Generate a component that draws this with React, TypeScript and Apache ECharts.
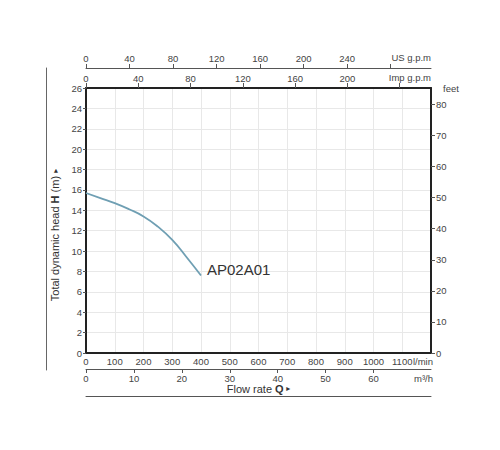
import * as echarts from "echarts";
import { useEffect, useRef } from "react";

// pump curve, flow in l/min, head in m
const flowLpm = [0, 50, 100, 150, 200, 250, 300, 350, 400];
const headM = [15.7, 15.2, 14.7, 14.1, 13.4, 12.4, 11.1, 9.4, 7.6];
const modelName = "AP02A01";

const usGpmTicks = [0, 40, 80, 120, 160, 200, 240, 280];
const usGpmLabels = [0, 40, 80, 120, 160, 200, 240];
const impGpmTicks = [0, 40, 80, 120, 160, 200, 240];
const impGpmLabels = [0, 40, 80, 120, 160, 200];
const m3hTicks = [0, 10, 20, 30, 40, 50, 60];
const feetTicks = [0, 10, 20, 30, 40, 50, 60, 70, 80];

const LPM_MAX = 1200;
const HEAD_MAX = 26;
const FONT = '"Liberation Sans", Arial, sans-serif';
const TXT = "#444";

export default function App() {
  const chartRef = useRef<HTMLDivElement>(null);
  useEffect(() => {
    const chart = echarts.init(chartRef.current, null, { renderer: "svg" });
    chart.setOption(getChartOption());
    return () => {
      chart.dispose();
    };
  }, []);

  return (
    <div
      ref={chartRef}
      style={{ position: "absolute", left: 0, top: 0, width: "500px", height: "450px" }}
    />
  );
}

function getChartOption() {
  const label = { color: TXT, fontSize: 9.5, fontFamily: FONT };
  const dark = { onZero: false, lineStyle: { color: "#222", width: 2 } };
  const thin = { onZero: false, lineStyle: { color: "#555", width: 1 } };

  return {
    animation: false,
    backgroundColor: "#fff",
    textStyle: { fontFamily: FONT },
    grid: [
      { left: 86, top: 88, width: 345, height: 265 },
      { left: 46, top: 68, width: 1, height: 302 },
    ],
    xAxis: [
      {
        // l/min
        type: "value",
        gridIndex: 0,
        position: "bottom",
        min: 0,
        max: LPM_MAX,
        interval: 100,
        axisLine: dark,
        axisTick: { show: false },
        axisLabel: {
          ...label,
          margin: 3,
          formatter: (v: number) => (v <= 1100 ? String(v) : ""),
        },
        splitLine: { show: true, lineStyle: { color: "#e8e8e8", width: 1 } },
        name: "l/min",
        nameLocation: "end",
        nameGap: 2,
        nameMoveOverlap: false,
        nameTextStyle: { ...label, align: "right", verticalAlign: "top", padding: [3, 0, 0, 0] },
      },
      {
        // m³/h
        type: "value",
        gridIndex: 0,
        position: "bottom",
        offset: 16,
        min: 0,
        max: (LPM_MAX * 60) / 1000,
        axisLine: thin,
        axisTick: { show: true, length: 4, lineStyle: { color: "#555" }, customValues: m3hTicks },
        axisLabel: { ...label, margin: 4, customValues: m3hTicks },
        splitLine: { show: false },
        name: "m³/h",
        nameLocation: "end",
        nameGap: 2,
        nameMoveOverlap: false,
        nameTextStyle: { ...label, align: "right", verticalAlign: "top", padding: [4, 0, 0, 0] },
      },
      {
        // flow rate title line
        type: "value",
        gridIndex: 0,
        position: "bottom",
        offset: 43,
        min: 0,
        max: 1,
        axisLine: thin,
        axisTick: { show: false },
        axisLabel: { show: false },
        splitLine: { show: false },
        name: "{a|Flow rate }{b|Q}{c| ▸}",
        nameLocation: "middle",
        nameGap: -2,
        nameMoveOverlap: false,
        nameTextStyle: {
          verticalAlign: "bottom",
          rich: {
            a: { fontSize: 11, color: "#333", fontFamily: FONT },
            b: { fontSize: 11, color: "#333", fontWeight: "bold", fontFamily: FONT },
            c: { fontSize: 8, color: "#333", fontFamily: "DejaVu Sans" },
          },
        },
      },
      {
        // Imp g.p.m
        type: "value",
        gridIndex: 0,
        position: "top",
        min: 0,
        max: LPM_MAX / 4.54609,
        axisLine: dark,
        axisTick: { show: true, length: 5, lineStyle: { color: "#555" }, customValues: impGpmTicks },
        axisLabel: { ...label, margin: 5, customValues: impGpmLabels },
        splitLine: { show: false },
        name: "Imp g.p.m",
        nameLocation: "end",
        nameGap: 0,
        nameMoveOverlap: false,
        nameTextStyle: { ...label, align: "right", verticalAlign: "bottom", padding: [0, 0, 6, 0] },
      },
      {
        // US g.p.m
        type: "value",
        gridIndex: 0,
        position: "top",
        offset: 20,
        min: 0,
        max: LPM_MAX / 3.78541,
        axisLine: thin,
        axisTick: { show: true, length: 4, lineStyle: { color: "#555" }, customValues: usGpmTicks },
        axisLabel: { ...label, margin: 5, customValues: usGpmLabels },
        splitLine: { show: false },
        name: "US g.p.m",
        nameLocation: "end",
        nameGap: 0,
        nameMoveOverlap: false,
        nameTextStyle: { ...label, align: "right", verticalAlign: "bottom", padding: [0, 0, 6, 0] },
      },
      {
        type: "value",
        gridIndex: 1,
        show: false,
        min: 0,
        max: 1,
      },
    ],
    yAxis: [
      {
        // head in m
        type: "value",
        gridIndex: 0,
        position: "left",
        min: 0,
        max: HEAD_MAX,
        interval: 2,
        axisLine: dark,
        axisTick: { show: true, length: 3, lineStyle: { color: "#555" } },
        axisLabel: { ...label, margin: 4 },
        splitLine: { show: true, lineStyle: { color: "#e8e8e8", width: 1 } },
      },
      {
        // head in feet
        type: "value",
        gridIndex: 0,
        position: "right",
        min: 0,
        max: HEAD_MAX * 3.28084,
        axisLine: dark,
        axisTick: { show: true, length: 4, lineStyle: { color: "#555" }, customValues: feetTicks },
        axisLabel: { ...label, margin: 5, customValues: feetTicks },
        splitLine: { show: false },
        name: "feet",
        nameLocation: "end",
        nameGap: 0,
        nameMoveOverlap: false,
        nameTextStyle: { ...label, align: "left", verticalAlign: "middle", padding: [0, 0, 0, 12] },
      },
      {
        type: "value",
        gridIndex: 1,
        position: "left",
        min: 0,
        max: 1,
        axisLine: { show: true, onZero: false, lineStyle: { color: "#666", width: 1 } },
        axisTick: { show: false },
        axisLabel: { show: false },
        splitLine: { show: false },
      },
    ],
    graphic: [
      {
        type: "text",
        x: 55,
        y: 235,
        rotation: Math.PI / 2,
        style: {
          text: "{a|Total dynamic head }{b|H}{a| (m) }{c|▸}",
          align: "center",
          verticalAlign: "middle",
          rich: {
            a: { fontSize: 11, fill: "#333", fontFamily: FONT },
            b: { fontSize: 11, fill: "#333", fontWeight: "bold", fontFamily: FONT },
            c: { fontSize: 8, fill: "#333", fontFamily: "DejaVu Sans" },
          },
        },
      },
    ],
    series: [
      {
        type: "line",
        xAxisIndex: 0,
        yAxisIndex: 0,
        data: flowLpm.map((q, i) => [q, headM[i]]),
        smooth: true,
        showSymbol: false,
        lineStyle: { color: "#6f9fb3", width: 1.8 },
        itemStyle: { color: "#6f9fb3" },
        endLabel: {
          show: true,
          formatter: modelName,
          color: "#333",
          fontSize: 15,
          fontFamily: FONT,
          distance: 6,
          offset: [0, -6],
        },
      },
    ],
  };
}
